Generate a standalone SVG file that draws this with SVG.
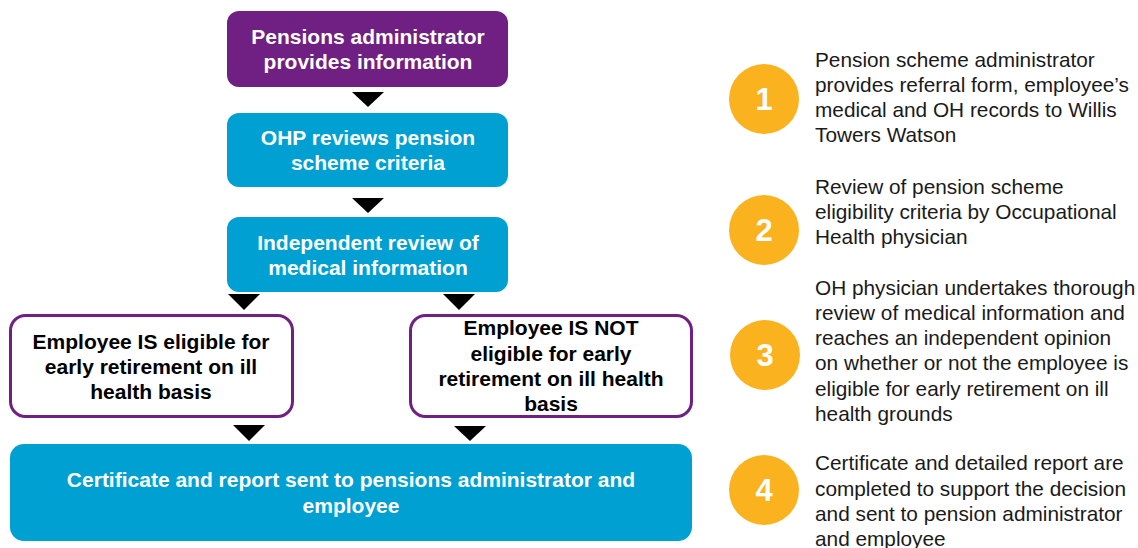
<svg xmlns="http://www.w3.org/2000/svg" width="1138" height="548" viewBox="0 0 1138 548">
<style>
.purple{fill:#702082}
.blue{fill:#00A0D2}
.white{fill:#ffffff;stroke:#702082;stroke-width:3}
.bt{font-family:"Liberation Sans",Arial,sans-serif;font-weight:bold;font-size:21px;fill:#ffffff;text-anchor:middle}
.dt{font-family:"Liberation Sans",Arial,sans-serif;font-weight:bold;font-size:21px;fill:#000000;text-anchor:middle}
.circ{fill:#FBB21F}
.num{font-family:"Liberation Sans",Arial,sans-serif;font-weight:bold;font-size:31px;fill:#ffffff;text-anchor:middle}
.rt{font-family:"Liberation Sans",Arial,sans-serif;font-size:20.8px;fill:#1a1a1a}
.arr{fill:#000000}
</style>
<g id="n1">
<rect class="purple" x="227" y="11" width="281" height="76" rx="12"/>
<text class="bt" x="368" y="44">Pensions administrator</text>
<text class="bt" x="368" y="69">provides information</text>
</g>
<g id="n2">
<rect class="blue" x="227" y="113" width="281" height="74" rx="12"/>
<text class="bt" x="368" y="145">OHP reviews pension</text>
<text class="bt" x="368" y="170">scheme criteria</text>
</g>
<g id="n3">
<rect class="blue" x="227" y="217" width="281" height="75" rx="12"/>
<text class="bt" x="368" y="250">Independent review of</text>
<text class="bt" x="368" y="275">medical information</text>
</g>
<g id="n4">
<rect class="white" x="10.5" y="315.5" width="282" height="101" rx="15"/>
<text class="dt" x="151" y="349">Employee IS eligible for</text>
<text class="dt" x="151" y="374">early retirement on ill</text>
<text class="dt" x="151" y="399">health basis</text>
</g>
<g id="n5">
<rect class="white" x="410.5" y="315.5" width="281" height="101" rx="15"/>
<text class="dt" x="551" y="335">Employee IS NOT</text>
<text class="dt" x="551" y="361">eligible for early</text>
<text class="dt" x="551" y="386">retirement on ill health</text>
<text class="dt" x="551" y="411">basis</text>
</g>
<g id="n6">
<rect class="blue" x="10" y="444" width="682" height="97" rx="14"/>
<text class="bt" x="351" y="487">Certificate and report sent to pensions administrator and</text>
<text class="bt" x="351" y="513">employee</text>
</g>
<g id="connectors">
<polygon class="arr" points="352,92 384,92 368,107"/>
<polygon class="arr" points="352,198 384,198 368,213"/>
<polygon class="arr" points="228,294 260,294 244,310"/>
<polygon class="arr" points="443,294 475,294 459,310"/>
<polygon class="arr" points="233,425 265,425 249,441"/>
<polygon class="arr" points="454,426 486,426 470,441"/>
</g>
<g id="s1">
<circle class="circ" cx="764" cy="99" r="35"/>
<text class="num" x="764" y="110">1</text>
<text class="rt" x="815" y="67">Pension scheme administrator</text>
<text class="rt" x="815" y="92">provides referral form, employee’s</text>
<text class="rt" x="815" y="117">medical and OH records to Willis</text>
<text class="rt" x="815" y="142">Towers Watson</text>
</g>
<g id="s2">
<circle class="circ" cx="764" cy="230" r="35"/>
<text class="num" x="764" y="241">2</text>
<text class="rt" x="815" y="194">Review of pension scheme</text>
<text class="rt" x="815" y="219">eligibility  criteria by Occupational</text>
<text class="rt" x="815" y="244">Health physician</text>
</g>
<g id="s3">
<circle class="circ" cx="765" cy="355" r="35"/>
<text class="num" x="765" y="366">3</text>
<text class="rt" x="815" y="295">OH physician undertakes thorough</text>
<text class="rt" x="815" y="320">review of medical information and</text>
<text class="rt" x="815" y="345">reaches an independent opinion</text>
<text class="rt" x="815" y="370">on whether or not the employee is</text>
<text class="rt" x="815" y="396">eligible for early retirement on ill</text>
<text class="rt" x="815" y="421">health grounds</text>
</g>
<g id="s4">
<circle class="circ" cx="764" cy="490" r="35"/>
<text class="num" x="764" y="501">4</text>
<text class="rt" x="815" y="470">Certificate and detailed report are</text>
<text class="rt" x="815" y="496">completed to support the decision</text>
<text class="rt" x="815" y="521">and sent to pension administrator</text>
<text class="rt" x="815" y="546">and employee</text>
</g>
</svg>
